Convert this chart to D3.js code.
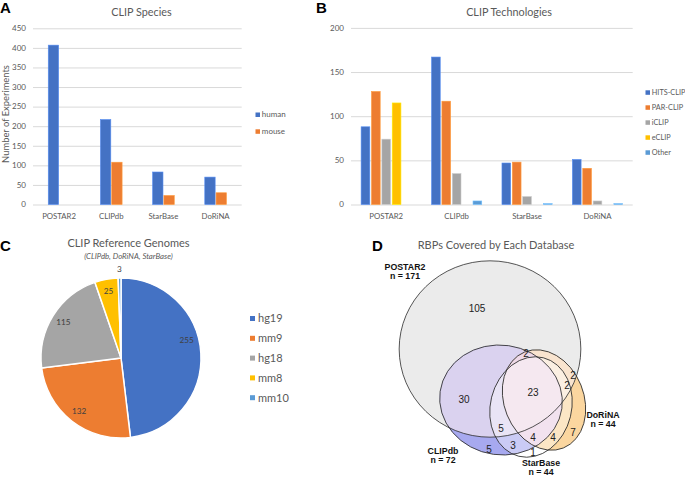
<!DOCTYPE html>
<html>
<head>
<meta charset="utf-8">
<script src="https://cdnjs.cloudflare.com/ajax/libs/d3/7.8.5/d3.min.js"></script>
<style>
body { margin: 0; background: #fff; }
svg text { font-family: Lato, "Liberation Sans", sans-serif; }
</style>
</head>
<body>
<div id="fig"></div>
<script>

// ---- data ----
var databases = ["POSTAR2", "CLIPdb", "StarBase", "DoRiNA"];
var species = ["human", "mouse"];
var humanCounts = [407, 217, 83, 70];
var mouseCounts = [0, 108, 23, 30];

var techs = ["HITS-CLIP", "PAR-CLIP", "iCLIP", "eCLIP", "Other"];
var hitsClip = [88, 167, 47, 51];
var parClip = [128, 117, 48, 41];
var iClip = [74, 35, 9, 4];
var eClip = [115, 0, 0, 0];
var otherClip = [0, 4, 1, 1];

var genomes = ["hg19", "mm9", "hg18", "mm8", "mm10"];
var genomeCounts = [255, 132, 115, 25, 3];

var vennSets = ["POSTAR2", "CLIPdb", "StarBase", "DoRiNA"];
var vennSizes = [171, 72, 44, 44];
// region: member sets -> count
var vennRegions = ["P", "PC", "C", "PCD", "PCSD", "PSD", "PD", "PCS", "CSD", "SD", "D", "CS", "S"];
var vennCounts = [105, 30, 5, 2, 23, 2, 2, 5, 4, 4, 7, 3, 1];

var palette = ["#4472C4", "#ED7D31", "#A5A5A5", "#FFC000", "#5B9BD5"];
var gridCol = "#d9d9d9", tickCol = "#595959";

var svg = d3.select("#fig").append("svg")
    .attr("width", 685)
    .attr("height", 478);

function letter(t, x, y) {
  svg.append("text")
    .attr("x", x).attr("y", y)
    .style("font-family", "'Liberation Sans', Arial, sans-serif")
    .style("font-weight", "bold")
    .style("font-size", "15px")
    .text(t);
}

function title(t, x, y, size) {
  return svg.append("text")
    .attr("x", x).attr("y", y)
    .attr("text-anchor", "middle")
    .style("font-size", (size || 10.8) + "px")
    .style("fill", tickCol)
    .text(t);
}

// grouped bar helper
function groupedBars(opt) {
  var x = d3.scaleBand().domain(databases).range(opt.xr)
    .paddingInner(opt.pad).paddingOuter(opt.pad / 2);
  var x1 = d3.scaleBand().domain(opt.keys).range([0, x.bandwidth()]).padding(opt.inner);
  var y = d3.scaleLinear().domain(opt.yd).range(opt.yr);

  var g = svg.append("g");
  g.selectAll(".grid")
    .data(y.ticks(opt.yd[1] / 50))
    .enter().append("line")
      .attr("x1", opt.xr[0]).attr("x2", opt.xr[1])
      .attr("y1", function(d) { return y(d) + 0.5; })
      .attr("y2", function(d) { return y(d) + 0.5; })
      .attr("stroke", gridCol)
      .attr("stroke-width", 1);

  g.selectAll(".tick")
    .data(y.ticks(opt.yd[1] / 50))
    .enter().append("text")
      .attr("x", opt.xr[0] - 7)
      .attr("y", function(d) { return y(d); })
      .attr("dy", "0.35em")
      .attr("text-anchor", "end")
      .style("font-size", "8px")
      .style("fill", tickCol)
      .text(function(d) { return d; });

  g.selectAll(".cat")
    .data(databases)
    .enter().append("text")
      .attr("x", function(d) { return x(d) + x.bandwidth() / 2; })
      .attr("y", opt.yr[0] + 14)
      .attr("text-anchor", "middle")
      .style("font-size", "7.8px")
      .style("fill", tickCol)
      .text(function(d) { return d; });

  opt.series.forEach(function(vals, si) {
    g.selectAll(".b" + si)
      .data(vals.map(function(v, i) { return {db: databases[i], v: v}; })
                .filter(function(d) { return d.v > 0; }))
      .enter().append("rect")
        .attr("x", function(d) { return x(d.db) + x1(opt.keys[si]); })
        .attr("width", x1.bandwidth())
        .attr("y", function(d) { return y(d.v); })
        .attr("height", function(d) { return y(0) - y(d.v); })
        .attr("fill", palette[si])
        .attr("stroke", d3.color(palette[si]).brighter(0.6))
        .attr("stroke-width", 0.6);
  });

  // legend
  var lg = g.selectAll(".lg")
    .data(opt.keys)
    .enter().append("g")
      .attr("transform", function(d, i) {
        return "translate(" + opt.lx + "," + (opt.ly + i * opt.ldy) + ")";
      });
  lg.append("rect")
    .attr("x", 0).attr("y", -2).attr("width", 4.5).attr("height", 4.5)
    .attr("fill", function(d, i) { return palette[i]; });
  lg.append("text")
    .attr("x", 6.3).attr("y", 0).attr("dy", "0.35em")
    .style("font-size", opt.lfs + "px")
    .style("fill", tickCol)
    .text(function(d) { return d; });
}

// ---- A: species ----
letter("A", 0, 13);
title("CLIP Species", 141.5, 15.5);
groupedBars({
  keys: species,
  series: [humanCounts, mouseCounts],
  xr: [33, 241.7], yr: [204.5, 28.3], yd: [0, 450],
  pad: 0.55, inner: 0.08,
  lx: 255.5, ly: 114.5, ldy: 16.8, lfs: 8
});
svg.append("text")
  .attr("transform", "translate(8.5,114) rotate(-90)")
  .attr("text-anchor", "middle")
  .style("font-size", "9.4px")
  .style("fill", tickCol)
  .text("Number of Experiments");

// ---- B: technologies ----
letter("B", 316, 13);
title("CLIP Technologies", 509, 15.5);
groupedBars({
  keys: techs,
  series: [hitsClip, parClip, iClip, eClip, otherClip],
  xr: [351, 632.7], yr: [204.5, 27.9], yd: [0, 200],
  pad: 0.24, inner: 0.16,
  lx: 645.5, ly: 92.3, ldy: 15, lfs: 7.3
});

// ---- C: reference genomes pie ----
letter("C", 0, 251);
title("CLIP Reference Genomes", 128.5, 247, 11);
svg.append("text")
  .attr("x", 128.5).attr("y", 258.5)
  .attr("text-anchor", "middle")
  .style("font-size", "7.8px")
  .style("font-style", "italic")
  .style("fill", tickCol)
  .text("(CLIPdb, DoRiNA, StarBase)");

var pieR = 80;
var pieG = svg.append("g").attr("transform", "translate(121,358)");
var pie = d3.pie().sort(null).value(function(d) { return d; });
var arcs = pie(genomeCounts);
var arc = d3.arc().innerRadius(0).outerRadius(pieR);
pieG.selectAll("path")
  .data(arcs)
  .enter().append("path")
    .attr("d", arc)
    .attr("fill", function(d, i) { return palette[i]; })
    .attr("stroke", "#fff")
    .attr("stroke-width", 1.5);

// label placement: small slices go outside, the half-pie slice sits a bit higher (best fit)
pieG.selectAll(".lbl")
  .data(arcs)
  .enter().append("text")
    .attr("transform", function(d) {
      var r = d.value < 10 ? pieR + 9 : pieR * 0.85;
      var a = (d.startAngle + d.endAngle) / 2;
      if (d.endAngle - d.startAngle > Math.PI * 0.8) a -= 0.2;
      return "translate(" + [r * Math.sin(a), -r * Math.cos(a)] + ")";
    })
    .attr("dy", "0.35em")
    .attr("text-anchor", "middle")
    .style("font-size", "8.2px")
    .style("fill", "#404040")
    .text(function(d) { return d.value; });

var pl = svg.selectAll(".plg")
  .data(genomes)
  .enter().append("g")
    .attr("transform", function(d, i) { return "translate(250," + (318.5 + i * 19.8) + ")"; });
pl.append("rect")
  .attr("x", 0).attr("y", -2.5).attr("width", 5).attr("height", 5)
  .attr("fill", function(d, i) { return palette[i]; });
pl.append("text")
  .attr("x", 8).attr("y", 0).attr("dy", "0.35em")
  .style("font-size", "11px")
  .style("fill", tickCol)
  .text(function(d) { return d; });

// ---- D: Venn ----
letter("D", 372, 251);
title("RBPs Covered by Each Database", 496, 248.5, 11);

// layout (pixel offsets of each ellipse centre and shape)
var vx = d3.scaleLinear().domain([0, 1]).range([490, 491]);
var vy = d3.scaleLinear().domain([0, 1]).range([349, 350]);
var vr = d3.scaleSqrt().domain([0, 171]).range([0, 89.5]);
var vennShape = {
  P: {dx: 0, dy: 0, aspect: 1.03, rot: 0},
  C: {dx: 11, dy: 51, aspect: 1.12, rot: 8},
  S: {dx: 41, dy: 58, aspect: 0.8, rot: 14},
  D: {dx: 54, dy: 51, aspect: 0.77, rot: -22}
};
var vennKeys = ["P", "C", "S", "D"];
var vennEll = vennKeys.map(function(k, i) {
  var s = vennShape[k], r = vr(vennSizes[i]);
  return {key: k, cx: vx(s.dx), cy: vy(s.dy),
          rx: r * Math.sqrt(s.aspect), ry: r / Math.sqrt(s.aspect), rot: s.rot};
});
function ell(sel, e) {
  return sel.append("ellipse")
    .attr("cx", 0).attr("cy", 0).attr("rx", e.rx).attr("ry", e.ry)
    .attr("transform", "translate(" + e.cx + "," + e.cy + ") rotate(" + e.rot + ")");
}
var defs = svg.append("defs");
vennEll.forEach(function(e) {
  ell(defs.append("clipPath").attr("id", "cp-" + e.key), e);
});
var E = {};
vennEll.forEach(function(e) { E[e.key] = e; });

var vg = svg.append("g");
ell(vg, E.P).attr("fill", "#ebebeb");
ell(vg, E.C).attr("fill", "#a7a9ef");
ell(vg.append("g").attr("clip-path", "url(#cp-P)"), E.C).attr("fill", "#dad2ef");
ell(vg, E.D).attr("fill", "#fbd69f");
ell(vg.append("g").attr("clip-path", "url(#cp-P)"), E.D).attr("fill", "#f9e4cf");
ell(vg.append("g").attr("clip-path", "url(#cp-C)"), E.D).attr("fill", "#e9cfe4");
ell(vg.append("g").attr("clip-path", "url(#cp-P)").append("g").attr("clip-path", "url(#cp-C)"), E.D)
  .attr("fill", "#efd9e7");
ell(vg, E.S).attr("fill", "#fff").attr("fill-opacity", 0.4);
vennEll.forEach(function(e) {
  ell(vg, e).attr("fill", "none").attr("stroke", "#2b2b2b").attr("stroke-width", 0.8);
});

// region label positions (pixel offsets from the POSTAR2 centre)
var regionPos = {
  P: [-13, -41], PC: [-26, 50], C: [-1, 100], PCD: [36, 4], PCSD: [43, 43],
  PSD: [77, 36], PD: [83, 26], PCS: [11, 79], CSD: [43, 88], SD: [63, 88],
  D: [83, 83], CS: [23, 96], S: [43, 103]
};
vg.selectAll(".rl")
  .data(vennRegions)
  .enter().append("text")
    .attr("x", function(d) { return vx(regionPos[d][0]); })
    .attr("y", function(d) { return vy(regionPos[d][1]); })
    .attr("dy", "0.35em")
    .attr("text-anchor", "middle")
    .style("font-family", "'Liberation Sans', Arial, sans-serif")
    .style("font-size", "10px")
    .style("fill", "#222")
    .text(function(d, i) { return vennCounts[i]; });

var setLabelPos = [[-85, -79], [-47, 105], [51, 117], [113, 69]];
var sl = vg.selectAll(".sl")
  .data(vennSets)
  .enter().append("text")
    .attr("x", function(d, i) { return vx(setLabelPos[i][0]); })
    .attr("y", function(d, i) { return vy(setLabelPos[i][1]); })
    .attr("text-anchor", "middle")
    .style("font-family", "'Liberation Sans', Arial, sans-serif")
    .style("font-size", "8.8px")
    .style("font-weight", "bold")
    .style("fill", "#111");
sl.append("tspan").text(function(d) { return d; });
sl.append("tspan")
  .attr("x", function(d, i) { return vx(setLabelPos[i][0]); })
  .attr("dy", "1.05em")
  .text(function(d, i) { return "n = " + vennSizes[i]; });

</script>
</body>
</html>
